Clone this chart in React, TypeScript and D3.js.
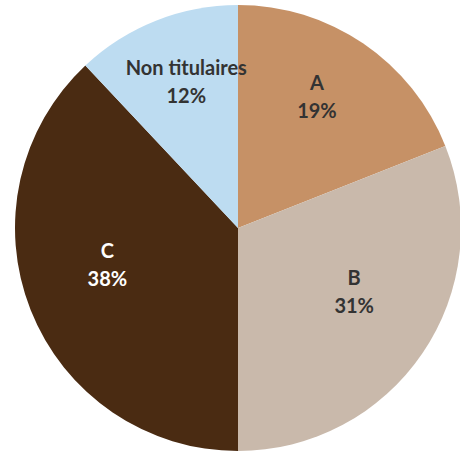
import React from 'react';
import * as d3 from 'd3';

const categories = ['A', 'B', 'C', 'Non titulaires'];
const shares = [19, 31, 38, 12];
const colors = ['#C69166', '#C9B9AB', '#4A2B12', '#BDDCF1'];
const labelColors = ['#333333', '#333333', '#FFFFFF', '#333333'];

const width = 460;
const height = 452;
const cx = 238;
const cy = 228;
const radius = 223;

const App = () => {
    const pie = d3.pie<number>().sort(null).value(d => d);
    const arcs = pie(shares);
    const arc = d3.arc<d3.PieArcDatum<number>>().innerRadius(0).outerRadius(radius);
    const labelArc = d3.arc<d3.PieArcDatum<number>>().innerRadius(radius * 0.63).outerRadius(radius * 0.63);

    return (
        <svg width={width} height={height} style={{ position: 'absolute', left: 0, top: 0 }}>
            <g transform={`translate(${cx},${cy})`}>
                {arcs.map((a, i) => (
                    <path key={categories[i]} d={arc(a) || ''} fill={colors[i]} />
                ))}
                {arcs.map((a, i) => {
                    const [x, y0] = labelArc.centroid(a);
                    const y = y0 - 15;
                    return (
                        <text
                            key={'l' + i}
                            textAnchor="middle"
                            fontFamily="Lato, 'Open Sans', sans-serif"
                            fontWeight="bold"
                            fontSize={20}
                            fill={labelColors[i]}
                        >
                            <tspan x={x} y={y - 7}>{categories[i]}</tspan>
                            <tspan x={x} y={y + 21}>{shares[i]}%</tspan>
                        </text>
                    );
                })}
            </g>
        </svg>
    );
};

export default App;
